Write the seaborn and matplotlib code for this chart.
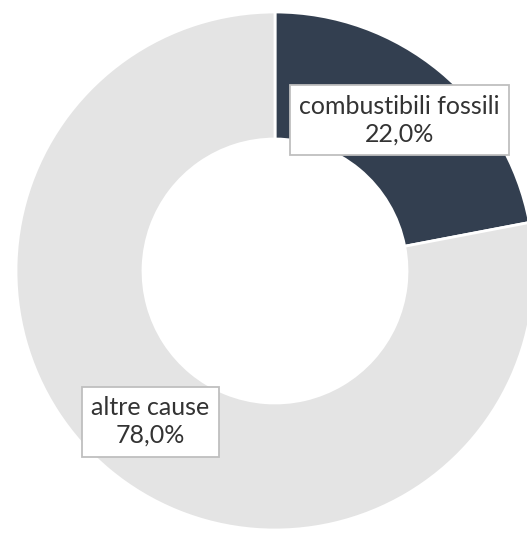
"""
Donut chart: share of causes (combustibili fossili vs altre cause).
"""

import matplotlib.pyplot as plt
import numpy as np
import seaborn as sns

categories = ["combustibili fossili", "altre cause"]
shares = [22.0, 78.0]
slice_colors = ["#333F50", "#E4E4E4"]


def fmt_pct(v):
    return f"{v:.1f}%".replace(".", ",")


def draw_donut():
    sns.set_theme(style="white")
    plt.rcParams["font.family"] = ["Lato", "DejaVu Sans"]

    fig = plt.figure(figsize=(5.27, 5.34), dpi=100)
    ax = fig.add_axes([0, 0, 1, 1])

    center = (275, 263)
    radius = 259
    ring = 127

    wedges, _ = ax.pie(
        shares,
        colors=slice_colors,
        startangle=90,
        counterclock=False,
        center=center,
        radius=radius,
        wedgeprops=dict(width=ring, edgecolor="white", linewidth=2),
        frame=True,
    )
    ax.set_xlim(0, 527)
    ax.set_ylim(0, 534)
    ax.set_aspect("equal")
    ax.axis("off")

    mid_r = radius - ring / 2
    for w, name, val in zip(wedges, categories, shares):
        ang = np.deg2rad((w.theta1 + w.theta2) / 2)
        x = center[0] + mid_r * np.cos(ang)
        y = center[1] + mid_r * np.sin(ang)
        ax.text(
            x, y, f"{name}\n{fmt_pct(val)}",
            ha="center", va="center", fontsize=18, color="#333333",
            linespacing=1.25,
            bbox=dict(boxstyle="square,pad=0.38", facecolor="white",
                      edgecolor="#BFBFBF", linewidth=1.3),
        )

    fig.savefig("out.png", dpi=100)


if __name__ == "__main__":
    draw_donut()
